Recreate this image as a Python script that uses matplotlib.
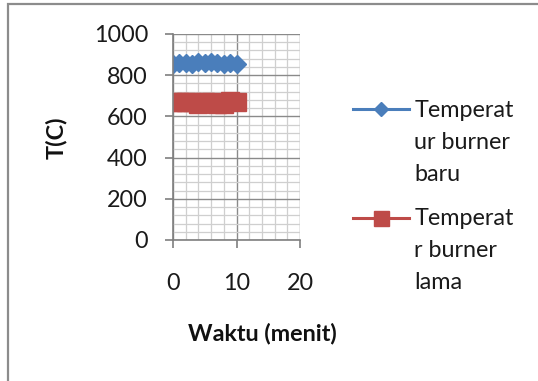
import numpy as np
import matplotlib
matplotlib.use('Agg')
import matplotlib.pyplot as plt
from matplotlib.patches import Rectangle

# data
waktu = [0, 1, 2, 3, 4, 5, 6, 7, 8, 9, 10]
temp_baru = [855, 858, 860, 856, 862, 860, 866, 860, 856, 858, 856]
temp_lama = [670, 670, 670, 670, 660, 670, 670, 660, 660, 673, 670]
seri = ['Temperat\nur burner\nbaru', 'Temperat\nr burner\nlama']

plt.rcParams['font.family'] = ['Lato', 'DejaVu Sans']
fs = 16.8

fig = plt.figure(figsize=(5.38, 3.81), dpi=100)
ax = fig.add_axes([173/538, 1 - 240/381, 127/538, 206/381])

l1, = ax.plot(waktu, temp_baru, color='#4a7ebb', lw=2.2, marker='D', ms=9.2,
              markeredgecolor='#4a7ebb', label=seri[0])
l2, = ax.plot(waktu, temp_lama, color='#be4b48', lw=2.2, marker='s', ms=13.5,
              markeredgecolor='#be4b48', label=seri[1])

ax.set_xlim(0, 20)
ax.set_ylim(0, 1000)
ax.set_xticks([0, 10, 20])
ax.set_yticks([0, 200, 400, 600, 800, 1000])
ax.set_xticks(np.arange(0, 21, 2), minor=True)
ax.set_yticks(np.arange(0, 1001, 40), minor=True)
ax.grid(which='major', color='#8a8a8a', lw=1.0)
ax.grid(which='minor', color='#cfcfcf', lw=0.9)
ax.set_axisbelow(True)
for s in ['top', 'right']:
    ax.spines[s].set_visible(False)
for s in ['left', 'bottom']:
    ax.spines[s].set_color('#7f7f7f')
    ax.spines[s].set_linewidth(1.2)
ax.tick_params(which='major', direction='out', length=6, width=1.2, color='#7f7f7f',
               labelsize=fs, labelcolor='#1a1a1a')
ax.tick_params(which='minor', length=0)
ax.tick_params(axis='y', pad=12)
ax.tick_params(axis='x', pad=18)

fig.text(56/538, 1 - 138/381, 'T(C)', rotation=90, ha='center', va='center',
         fontsize=fs, fontweight='bold', color='#111111')
fig.text(262/538, 1 - 333/381, 'Waktu (menit)', ha='center', va='center',
         fontsize=fs, fontweight='bold', color='#111111')

leg = fig.legend(handles=[l1, l2], loc='upper left',
                 bbox_to_anchor=(341/538, 1 - 88/381), frameon=False,
                 fontsize=fs, handlelength=2.4, handletextpad=0.25,
                 handleheight=1.1, labelspacing=1.0, markerscale=0.8,
                 borderpad=0)
for t in leg.get_texts():
    t.set_linespacing(1.65)
    t.set_color('#1a1a1a')
# handle next to the first line of each label, as in the original
for col in leg._legend_handle_box.get_children():
    for row in col.get_children():
        row.align = 'top'

fig.patches.append(Rectangle((8/538, -0.1), 1.2, 1.1 - 4/381, transform=fig.transFigure,
                             fill=False, edgecolor='#8c8c8c', lw=1.6))

fig.savefig('out.png', dpi=100)
